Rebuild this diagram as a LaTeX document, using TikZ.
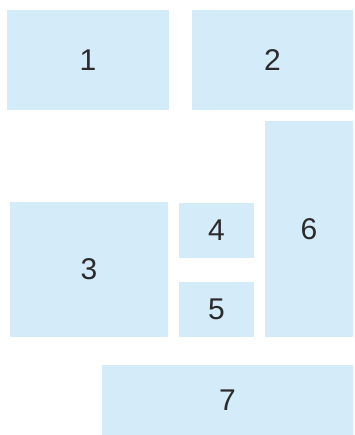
\documentclass[tikz,border=0pt]{standalone}
\usepackage{fontspec}
\setmainfont{Liberation Sans}
\definecolor{boxfill}{HTML}{D4ECF9}
\definecolor{numtext}{HTML}{2B2B2B}
\begin{document}
\begin{tikzpicture}[x=1pt,y=-1pt,
  blk/.style={fill=boxfill, draw=none, inner sep=0pt, outer sep=0pt,
    text=numtext, font=\fontsize{30}{30}\selectfont}]
\useasboundingbox (0,0) rectangle (354,435);
\node[blk, minimum width=162pt, minimum height=100pt] (b1) at (88,60) {1};
\node[blk, minimum width=161pt, minimum height=100pt] (b2) at (272.5,60) {2};
\node[blk, minimum width=158pt, minimum height=135pt] (b3) at (89,269.5) {3};
\node[blk, minimum width=75pt, minimum height=55pt] (b4) at (216.5,230.5) {4};
\node[blk, minimum width=75pt, minimum height=55pt] (b5) at (216.5,309.5) {5};
\node[blk, minimum width=88pt, minimum height=216pt] (b6) at (309,229) {6};
\node[blk, minimum width=251pt, minimum height=70pt] (b7) at (227.5,400) {7};
\end{tikzpicture}
\end{document}
